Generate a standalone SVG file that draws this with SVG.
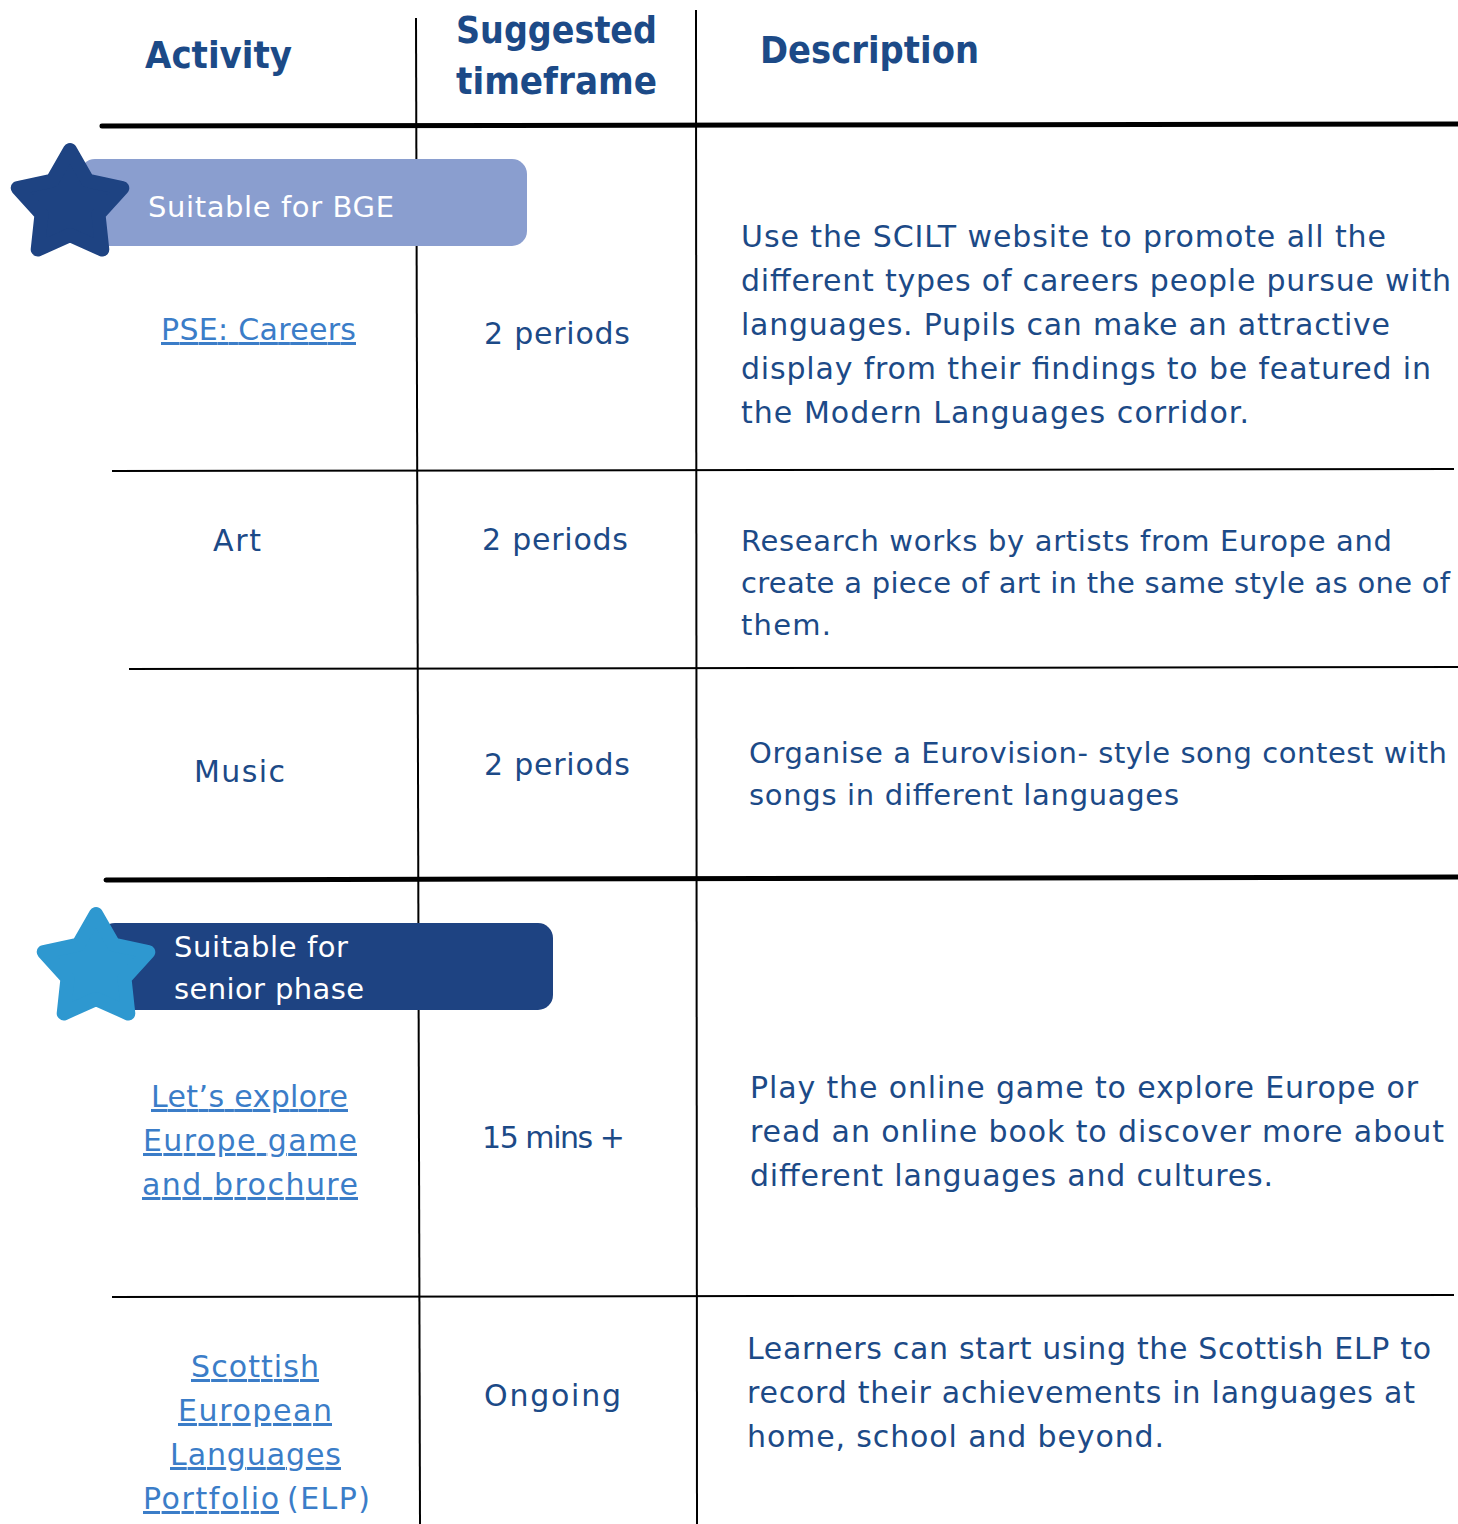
<svg xmlns="http://www.w3.org/2000/svg" width="1458" height="1524" viewBox="0 0 1458 1524">
<style>
.hd{font-family:"DejaVu Sans","Liberation Sans",sans-serif;font-weight:bold;font-size:38px;fill:#1c4a87}
.tx{font-family:"DejaVu Sans","Liberation Sans",sans-serif;font-size:30px;fill:#1c4a87}
.sm{font-size:29px}
.lk{font-family:"DejaVu Sans","Liberation Sans",sans-serif;font-size:30px;fill:#3b7dc8;text-decoration:underline}
.bt{font-family:"DejaVu Sans","Liberation Sans",sans-serif;font-size:29px;fill:#ffffff}
.thin{stroke:#000;stroke-width:2;fill:none}
.thick{stroke:#000;stroke-width:5;stroke-linecap:round;fill:none}
</style>
<g id="connectors">
<line class="thin" x1="416" y1="18" x2="420" y2="1524"/>
<line class="thin" x1="696" y1="10" x2="697" y2="1524"/>
<line class="thick" x1="102" y1="126" x2="1458" y2="124"/>
<line class="thin" x1="112" y1="471" x2="1454" y2="469"/>
<line class="thin" x1="129" y1="669" x2="1458" y2="667"/>
<line class="thick" x1="106" y1="880" x2="1458" y2="877"/>
<line class="thin" x1="112" y1="1297" x2="1454" y2="1295"/>
</g>
<g id="header">
<text class="hd" x="145" y="68" textLength="147" lengthAdjust="spacingAndGlyphs">Activity</text>
<text class="hd" x="456" y="43" textLength="201" lengthAdjust="spacingAndGlyphs">Suggested</text>
<text class="hd" x="456" y="94" textLength="201" lengthAdjust="spacingAndGlyphs">timeframe</text>
<text class="hd" x="760" y="63" textLength="219" lengthAdjust="spacingAndGlyphs">Description</text>
</g>
<g id="badge-bge">
<rect x="80" y="159" width="447" height="87" rx="15" fill="#8a9ecf"/>
<polygon points="70,150 87.6,180.7 122.3,188 98.5,214.3 102.3,249.5 70,235 37.7,249.5 41.5,214.3 17.7,188 52.4,180.7" fill="#1e4382" stroke="#1e4382" stroke-width="14" stroke-linejoin="round"/>
<text class="bt" x="148" y="217" textLength="246">Suitable for BGE</text>
</g>
<g id="badge-senior">
<rect x="100" y="923" width="453" height="87" rx="15" fill="#1e4382"/>
<polygon points="96,914 113.6,944.7 148.3,952 124.5,978.3 128.3,1013.5 96,999 63.7,1013.5 67.5,978.3 43.7,952 78.4,944.7" fill="#2e98d0" stroke="#2e98d0" stroke-width="14" stroke-linejoin="round"/>
<text class="bt" x="174" y="957" textLength="174">Suitable for</text>
<text class="bt" x="174" y="999" textLength="190">senior phase</text>
</g>
<g id="row-pse">
<text class="lk" x="161" y="340" textLength="195">PSE: Careers</text>
<text class="tx" x="484" y="344" textLength="146">2 periods</text>
<text class="tx" x="741" y="247" textLength="645">Use the SCILT website to promote all the</text>
<text class="tx" x="741" y="291" textLength="710">different types of careers people pursue with</text>
<text class="tx" x="741" y="335" textLength="649">languages. Pupils can make an attractive</text>
<text class="tx" x="741" y="379" textLength="690">display from their findings to be featured in</text>
<text class="tx" x="741" y="423" textLength="508">the Modern Languages corridor.</text>
</g>
<g id="row-art">
<text class="tx" x="213" y="551" textLength="48">Art</text>
<text class="tx" x="482" y="550" textLength="146">2 periods</text>
<text class="tx sm" x="741" y="551" textLength="651">Research works by artists from Europe and</text>
<text class="tx sm" x="741" y="593" textLength="709">create a piece of art in the same style as one of</text>
<text class="tx sm" x="741" y="635" textLength="90">them.</text>
</g>
<g id="row-music">
<text class="tx" x="194" y="782" textLength="91">Music</text>
<text class="tx" x="484" y="775" textLength="146">2 periods</text>
<text class="tx sm" x="749" y="763" textLength="698">Organise a Eurovision- style song contest with</text>
<text class="tx sm" x="749" y="805" textLength="430">songs in different languages</text>
</g>
<g id="row-europe">
<text class="lk" x="151" y="1107" textLength="197">Let’s explore</text>
<text class="lk" x="143" y="1151" textLength="214">Europe game</text>
<text class="lk" x="142" y="1195" textLength="216">and brochure</text>
<text class="tx" x="482" y="1148" textLength="143">15 mins +</text>
<text class="tx" x="750" y="1098" textLength="668">Play the online game to explore Europe or</text>
<text class="tx" x="750" y="1142" textLength="694">read an online book to discover more about</text>
<text class="tx" x="750" y="1186" textLength="523">different languages and cultures.</text>
</g>
<g id="row-elp">
<text class="lk" x="191" y="1377" textLength="128">Scottish</text>
<text class="lk" x="178" y="1421" textLength="154">European</text>
<text class="lk" x="170" y="1465" textLength="171">Languages</text>
<text class="lk" x="143" y="1509" textLength="136">Portfolio</text>
<text class="tx" x="287" y="1509" textLength="83" style="fill:#3b7dc8">(ELP)</text>
<text class="tx" x="484" y="1406" textLength="137">Ongoing</text>
<text class="tx" x="747" y="1359" textLength="684">Learners can start using the Scottish ELP to</text>
<text class="tx" x="747" y="1403" textLength="668">record their achievements in languages at</text>
<text class="tx" x="747" y="1447" textLength="417">home, school and beyond.</text>
</g>
</svg>
